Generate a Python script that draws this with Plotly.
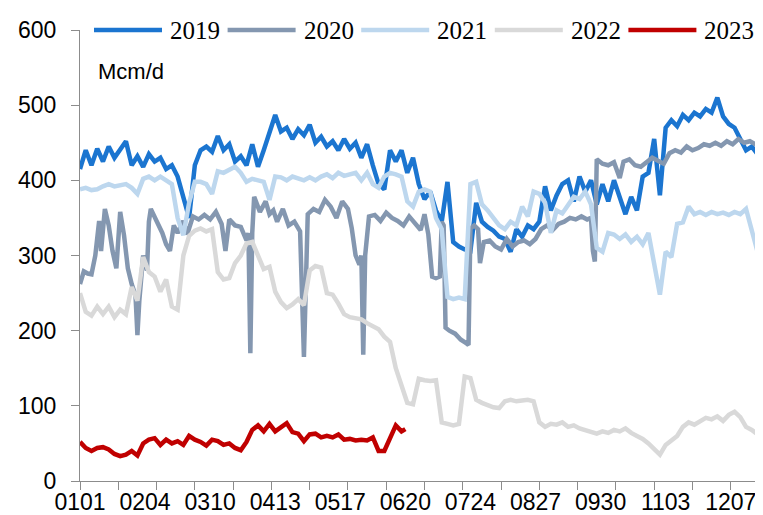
import plotly.graph_objects as go

# ---------------- data ----------------
days = list(range(0, 361, 3))  # day offsets from 1 Jan

v2019 = [415, 440, 420, 442, 425, 445, 430, 440, 452, 420, 432, 418, 435, 425, 430, 415, 420, 405, 375, 350,
         420, 440, 445, 438, 459, 440, 448, 425, 432, 420, 448, 418, 440, 465, 487, 465, 470, 455, 468, 460,
         474, 450, 458, 445, 452, 440, 455, 442, 450, 430, 448, 420, 395, 388, 440, 425, 440, 410, 430, 395,
         375, 385, 360, 345, 398, 318, 312, 308, 306, 370, 345, 338, 333, 325, 322, 305, 335, 325, 340, 335,
         345, 392, 360, 380, 395, 400, 372, 405, 385, 400, 368, 395, 372, 400, 378, 355, 378, 360, 405, 410,
         455, 380, 470, 480, 472, 487, 480, 490, 485, 495, 490, 510, 485, 475, 470, 455, 440, 445, 435, 455,
         448]

days2020 = [0, 2, 4, 6, 8, 10, 11, 13, 15, 17, 19, 21, 23, 25, 27, 29, 30, 31, 33, 35,
            36, 37, 40, 43, 45, 47, 49, 51, 54, 56, 59, 62, 65, 68, 71, 74, 76, 78, 81, 84,
            87, 88, 89, 90, 91, 94, 97, 99, 101, 103, 106, 109, 112, 115, 117, 119, 122, 125, 128, 131,
            134, 137, 140, 142, 144, 146, 147, 148, 149, 151, 154, 157, 160, 163, 166, 169, 172, 175, 178, 180,
            182, 183, 184, 186, 188, 189, 190, 191, 193, 196, 199, 202, 203, 204, 206, 208, 209, 211, 214, 217,
            220, 223, 226, 229, 232, 235, 238, 241, 244, 247, 250, 253, 256, 259, 262, 265, 267, 268, 269, 270,
            273, 276, 279, 282, 284, 287, 290, 293, 296, 299, 302, 305, 308, 311, 314, 317, 320, 323, 326, 329,
            332, 335, 338, 341, 344, 347, 350, 353, 356, 358, 360]
v2020 = [262, 279, 276, 275, 300, 346, 306, 362, 340, 306, 283, 358, 327, 283, 262, 247, 194, 240, 300, 280,
         345, 362, 346, 330, 315, 306, 340, 330, 346, 328, 352, 348, 354, 348, 358, 342, 306, 348, 340, 338,
         320, 330, 170, 330, 378, 358, 372, 355, 360, 345, 362, 340, 345, 332, 165, 355, 362, 358, 374, 365,
         350, 372, 362, 336, 300, 288, 300, 168, 300, 352, 354, 346, 357, 350, 346, 340, 352, 342, 334, 355,
         328, 300, 272, 270, 272, 345, 340, 204, 200, 196, 188, 183, 181, 336, 340, 335, 290, 318, 320, 312,
         308, 322, 312, 318, 320, 315, 322, 335, 340, 334, 342, 345, 350, 348, 352, 348, 350, 306, 292, 428,
         422, 420, 424, 403, 425, 428, 420, 418, 425, 430, 426, 422, 436, 440, 437, 445, 440, 443, 448, 446,
         450, 446, 452, 448, 455, 450, 452, 448, 454, 446, 440]

v2021 = [388, 390, 387, 388, 392, 395, 392, 394, 395, 390, 382, 402, 405, 400, 405, 400, 395, 350, 327, 370,
         398, 398, 395, 382, 412, 410, 414, 418, 410, 398, 402, 400, 398, 374, 405, 404, 400, 405, 402, 400,
         404, 400, 405, 408, 403, 410, 406, 408, 410, 400, 410, 395, 390, 405, 410, 408, 405, 372, 365, 385,
         388, 385, 350, 335, 245, 242, 244, 242, 395, 398, 368, 360, 350, 340, 335, 345, 340, 365, 352, 385,
         382, 370, 330, 360, 356, 368, 378, 375, 385, 368, 310, 305, 330, 328, 322, 328, 318, 325, 315, 330,
         285, 248, 305, 298, 342, 344, 365, 355, 358, 354, 358, 355, 357, 354, 358, 355, 362, 332, 305, 312,
         298]

v2022 = [250, 225, 220, 232, 222, 232, 218, 228, 222, 258, 240, 298, 278, 272, 252, 268, 232, 228, 300, 326,
         333, 336, 332, 335, 278, 268, 270, 290, 300, 316, 318, 300, 282, 285, 252, 238, 230, 235, 242, 234,
         280, 286, 284, 250, 248, 236, 222, 218, 216, 215, 210, 206, 202, 192, 185, 150, 125, 104, 102, 136,
         134, 133, 134, 78, 76, 74, 76, 139, 137, 108, 104, 101, 98, 97, 106, 108, 106, 107, 108, 106,
         78, 72, 76, 75, 78, 72, 74, 70, 68, 66, 63, 66, 64, 68, 66, 70, 64, 60, 56, 50,
         42, 35, 48, 55, 60, 72, 78, 75, 80, 84, 82, 86, 80, 88, 92, 85, 72, 68, 62, 65,
         64]

days2023 = list(range(0, 169, 3)) + [170]
v2023 = [52, 44, 40, 44, 45, 42, 36, 33, 35, 40, 34, 50, 55, 57, 48, 55, 50, 53, 48, 60,
         55, 52, 47, 55, 53, 48, 50, 44, 41, 52, 68, 74, 66, 76, 66, 72, 77, 65, 63, 53,
         62, 63, 58, 60, 58, 62, 55, 56, 54, 55, 54, 58, 40, 40, 58, 74, 66, 69]

tick_days = [0, 34, 68, 102, 136, 170, 204, 238, 272, 306, 340]
tick_labels = ["0101", "0204", "0310", "0413", "0517", "0620", "0724", "0827", "0930", "1103", "1207"]
mark_days = list(range(0, 361, 20))
y_ticks = [0, 100, 200, 300, 400, 500, 600]
unit_label = "Mcm/d"

names = ["2019", "2020", "2021", "2022", "2023"]
colors = ["#1B75D0", "#8497B0", "#BDD7EE", "#D9D9D9", "#C00000"]
xs = [days, days2020, days, days, days2023]
ys = [v2019, v2020, v2021, v2022, v2023]

# ---------------- figure ----------------
W, H = 763, 515
L, R, T, B = 72, 2, 22, 42
PW, PH = W - L - R, H - T - B

fig = go.Figure()
for i, (n, c, x, y) in enumerate(zip(names, colors, xs, ys)):
    n_pts = min(len(x), len(y))
    fig.add_trace(go.Scatter(
        x=x[:n_pts], y=y[:n_pts], name=n, mode="lines",
        line=dict(color=c, width=4.5),
        xaxis="x2" if i == 4 else "x",
        showlegend=False,
    ))

axis_col = "#8C8C8C"
fig.update_layout(
    width=W, height=H,
    margin=dict(l=L, r=R, t=T, b=B),
    paper_bgcolor="white", plot_bgcolor="white",
    xaxis=dict(range=[0, 360], tickmode="array", tickvals=tick_days, ticktext=tick_labels,
               ticks="",
               showline=True, linecolor=axis_col, linewidth=1,
               showgrid=False, zeroline=False,
               tickfont=dict(family="Liberation Sans", size=23, color="black")),
    xaxis2=dict(range=[0, 360], overlaying="x", anchor="y", side="bottom",
                tickmode="array", tickvals=mark_days, ticks="outside", ticklen=8,
                tickcolor=axis_col, tickwidth=1, showticklabels=False,
                showline=False, showgrid=False, zeroline=False),
    yaxis=dict(range=[0, 600], tickmode="array", tickvals=y_ticks,
               ticks="outside", ticklen=8, tickcolor=axis_col, tickwidth=1,
               showline=True, linecolor=axis_col, linewidth=1,
               showgrid=False, zeroline=False, ticklabelstandoff=10,
               tickfont=dict(family="Liberation Sans", size=23, color="black")),
)

# manual legend at the top of the plot area
def px_to_paper_x(px):
    return (px - L) / PW

def py_to_paper_y(py):
    return (H - B - py) / PH

leg_y = py_to_paper_y(22)
start, step, line_len, txt_off = 86, 133.6, 68, 74
for i, (n, c) in enumerate(zip(names, colors)):
    x0 = start + i * step
    fig.add_shape(type="line", xref="paper", yref="paper",
                  x0=px_to_paper_x(x0), x1=px_to_paper_x(x0 + line_len),
                  y0=leg_y, y1=leg_y, line=dict(color=c, width=4.5))
    fig.add_annotation(xref="paper", yref="paper", x=px_to_paper_x(x0 + txt_off), y=leg_y,
                       xanchor="left", yanchor="middle", text=n, showarrow=False,
                       font=dict(family="Liberation Serif", size=25, color="black"))

fig.add_annotation(xref="paper", yref="paper", x=px_to_paper_x(88), y=py_to_paper_y(63),
                   xanchor="left", yanchor="middle", text=unit_label, showarrow=False,
                   font=dict(family="Liberation Sans", size=22, color="black"))

fig.write_html("out.html")
